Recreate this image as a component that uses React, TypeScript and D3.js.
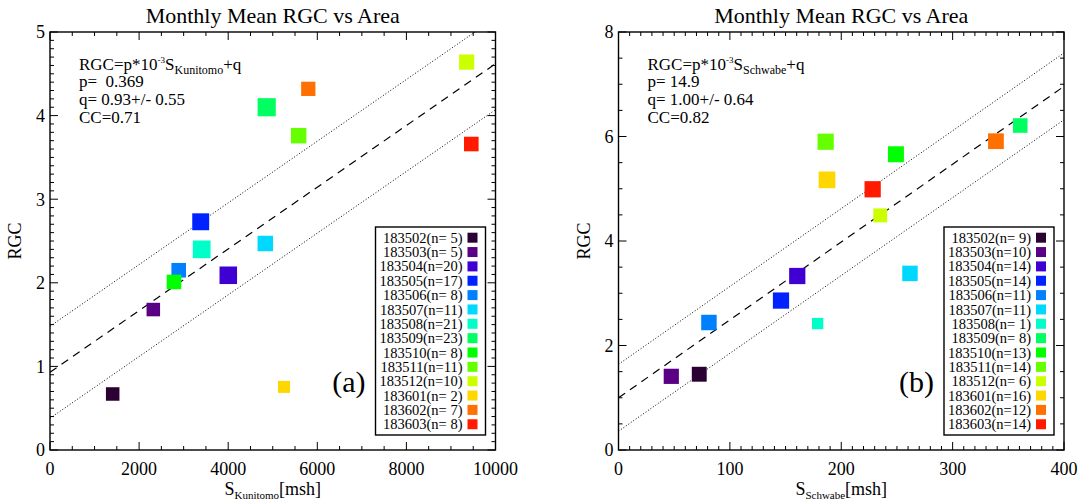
import React from "react";
import * as d3 from "d3";

// ---- data ----
const categories = ["183502", "183503", "183504", "183505", "183506", "183507", "183508", "183509", "183510", "183511", "183512", "183601", "183602", "183603"];
const colors = ["#2b0033", "#5a0085", "#3f00d2", "#0022ff", "#0080ff", "#00d8ff", "#00ffc8", "#00ff60", "#00ff00", "#66ff00", "#ccff00", "#ffd700", "#ff7000", "#ff1a00"];

// Panel (a): Kunitomo
const nA = [5, 5, 20, 17, 8, 11, 21, 23, 8, 11, 10, 2, 7, 8];
const xA = [1407, 2319, 4002, 3383, 2889, 4833, 3405, 4864, 2783, 5582, 9353, 5253, 5798, 9457];
const yA = [0.67, 1.68, 2.09, 2.73, 2.15, 2.47, 2.40, 4.10, 2.01, 3.76, 4.64, 0.755, 4.32, 3.66];
const xTicksA = [0, 2000, 4000, 6000, 8000, 10000];
const yTicksA = [0, 1, 2, 3, 4, 5];
const fitA = { p: 0.369, q: 0.93, dq: 0.55, cc: 0.71 };

// Panel (b): Schwabe
const nB = [9, 10, 14, 14, 11, 11, 1, 8, 13, 14, 6, 16, 12, 14];
const xB = [72.5, 47.4, 160.5, 145.9, 81.2, 261.7, 178.8, 360.7, 249.1, 186.0, 235.0, 187.2, 338.9, 228.2];
const yB = [1.45, 1.41, 3.33, 2.86, 2.44, 3.38, 2.42, 6.21, 5.66, 5.90, 4.49, 5.17, 5.91, 4.99];
const xTicksB = [0, 100, 200, 300, 400];
const yTicksB = [0, 2, 4, 6, 8];
const fitB = { p: 14.9, q: 1.0, dq: 0.64, cc: 0.82 };

const FONT = "'Liberation Serif', 'Times New Roman', serif";

type PanelProps = {
  id: string;
  left: number;
  right: number;
  top: number;
  bottom: number;
  xs: number[];
  ys: number[];
  ns: number[];
  xDomain: [number, number];
  yDomain: [number, number];
  xTicks: number[];
  yTicks: number[];
  xMinorStep: number;
  yMinorStep: number;
  fit: { p: number; q: number; dq: number; cc: number };
  pText: string;
  qText: string;
  sub: string;
  tag: string;
};

function Panel(props: PanelProps) {
  const { id, left, right, top, bottom, xs, ys, ns, xDomain, yDomain, xTicks, yTicks, xMinorStep, yMinorStep, fit, pText, qText, sub, tag } = props;
  const x = d3.scaleLinear().domain(xDomain).range([left, right]);
  const y = d3.scaleLinear().domain(yDomain).range([bottom, top]);
  const size = d3.scaleSqrt().domain([0, 25]).range([9.5, 18.5]);

  const xMinor = d3.range(xDomain[0], xDomain[1] + xMinorStep / 2, xMinorStep);
  const yMinor = d3.range(yDomain[0], yDomain[1] + yMinorStep / 2, yMinorStep);

  const slope = fit.p * 1e-3;
  const lineGen = d3.line<[number, number]>().x((d) => x(d[0])).y((d) => y(d[1]));
  const mkLine = (off: number) => lineGen([
    [xDomain[0], slope * xDomain[0] + fit.q + off],
    [xDomain[1], slope * xDomain[1] + fit.q + off],
  ]) as string;

  const major = 8, minor = 4;
  const isMajorX = (v: number) => xTicks.some((t) => Math.abs(t - v) < 1e-6);
  const isMajorY = (v: number) => yTicks.some((t) => Math.abs(t - v) < 1e-6);

  const legRight = right - 10;
  const legLeft = right - 120;
  const legTop = 227;
  const legBottom = 435;
  const rowY0 = 237.7;
  const rowStep = 14.35;

  const cx = (left + right) / 2;
  const cy = (top + bottom) / 2;

  return (
    <g fontFamily={FONT} fill="#000">
      <defs>
        <clipPath id={`clip-${id}`}>
          <rect x={left} y={top} width={right - left} height={bottom - top} />
        </clipPath>
      </defs>
      {/* Title */}
      <text x={cx} y={23} textAnchor="middle" fontSize={22}>Monthly Mean RGC vs Area</text>

      {/* fit lines */}
      <g clipPath={`url(#clip-${id})`} fill="none" stroke="#000">
        <path d={mkLine(0)} strokeWidth={1.2} strokeDasharray="8 6" />
        <path d={mkLine(fit.dq)} strokeWidth={1} strokeDasharray="1 2" />
        <path d={mkLine(-fit.dq)} strokeWidth={1} strokeDasharray="1 2" />
      </g>

      {/* points */}
      {xs.map((v, i) => {
        const s = size(ns[i]);
        return <rect key={i} x={x(v) - s / 2} y={y(ys[i]) - s / 2} width={s} height={s} fill={colors[i]} />;
      })}

      {/* ticks */}
      <g stroke="#000" strokeWidth={1}>
        {xMinor.map((v, i) => {
          const L = isMajorX(v) ? major : minor;
          return (
            <g key={`xt${i}`}>
              <line x1={x(v)} x2={x(v)} y1={bottom} y2={bottom - L} />
              <line x1={x(v)} x2={x(v)} y1={top} y2={top + L} />
            </g>
          );
        })}
        {yMinor.map((v, i) => {
          const L = isMajorY(v) ? major : minor;
          return (
            <g key={`yt${i}`}>
              <line x1={left} x2={left + L} y1={y(v)} y2={y(v)} />
              <line x1={right} x2={right - L} y1={y(v)} y2={y(v)} />
            </g>
          );
        })}
      </g>
      {/* frame */}
      <rect x={left} y={top} width={right - left} height={bottom - top} fill="none" stroke="#000" strokeWidth={1.4} />

      {/* tick labels */}
      {xTicks.map((v, i) => (
        <text key={`xl${i}`} x={x(v)} y={bottom + 25} textAnchor="middle" fontSize={18}>{v}</text>
      ))}
      {yTicks.map((v, i) => (
        <text key={`yl${i}`} x={left - 5} y={y(v)} dy="0.35em" textAnchor="end" fontSize={18}>{v}</text>
      ))}

      {/* axis titles */}
      <text x={cx} y={495} textAnchor="middle" fontSize={18}>
        S<tspan fontSize={11} dy={4}>{sub}</tspan><tspan dy={-4}>[msh]</tspan>
      </text>
      <text transform={`translate(${left - 35},${cy}) rotate(-90)`} textAnchor="middle" dy="0.35em" fontSize={18}>RGC</text>

      {/* annotation */}
      <g fontSize={17}>
        <text x={left + 29} y={69.5}>
          RGC=p*10<tspan fontSize={9} dy={-7}>-3</tspan><tspan dy={7}>S</tspan><tspan fontSize={12} dy={4}>{sub}</tspan><tspan dy={-4}>+q</tspan>
        </text>
        <text x={left + 29} y={87.2} xmlSpace="preserve" style={{ whiteSpace: "pre" }}>{pText}</text>
        <text x={left + 29} y={104.8} xmlSpace="preserve" style={{ whiteSpace: "pre" }}>{qText}</text>
        <text x={left + 29} y={122.5}>{`CC=${fit.cc.toFixed(2)}`}</text>
      </g>

      {/* panel tag */}
      <text x={legLeft - 10} y={392} textAnchor="end" fontSize={30}>{tag}</text>

      {/* legend */}
      <rect x={legLeft} y={legTop} width={legRight - legLeft} height={legBottom - legTop} fill="#fff" stroke="#000" strokeWidth={1.4} />
      {categories.map((c, i) => {
        const ry = rowY0 + i * rowStep;
        const n = ns[i];
        const lbl = `${c}(n=${n < 10 ? " " + n : n})`;
        return (
          <g key={`lg${i}`}>
            <text x={right - 33} y={ry} dy="0.35em" textAnchor="end" fontSize={14.5} xmlSpace="preserve" style={{ whiteSpace: "pre" }}>{lbl}</text>
            <rect x={right - 23 - 5} y={ry - 5} width={10} height={10} fill={colors[i]} />
          </g>
        );
      })}
    </g>
  );
}

export default function App() {
  return (
    <svg width={1083} height={501} style={{ position: "absolute", left: 0, top: 0, background: "#fff" }}>
      <rect width={1083} height={501} fill="#fff" />
      <Panel
        id="a" left={50} right={495.5} top={32} bottom={450}
        xs={xA} ys={yA} ns={nA}
        xDomain={[0, 10000]} yDomain={[0, 5]}
        xTicks={xTicksA} yTicks={yTicksA}
        xMinorStep={500} yMinorStep={0.1}
        fit={fitA}
        pText={`p=  ${fitA.p.toFixed(3)}`}
        qText={`q= ${fitA.q.toFixed(2)}+/- ${fitA.dq.toFixed(2)}`}
        sub="Kunitomo" tag="(a)"
      />
      <Panel
        id="b" left={618.5} right={1064} top={32} bottom={450}
        xs={xB} ys={yB} ns={nB}
        xDomain={[0, 400]} yDomain={[0, 8]}
        xTicks={xTicksB} yTicks={yTicksB}
        xMinorStep={10} yMinorStep={0.5}
        fit={fitB}
        pText={`p= ${fitB.p.toFixed(1)}`}
        qText={`q= ${fitB.q.toFixed(2)}+/- ${fitB.dq.toFixed(2)}`}
        sub="Schwabe" tag="(b)"
      />
    </svg>
  );
}
